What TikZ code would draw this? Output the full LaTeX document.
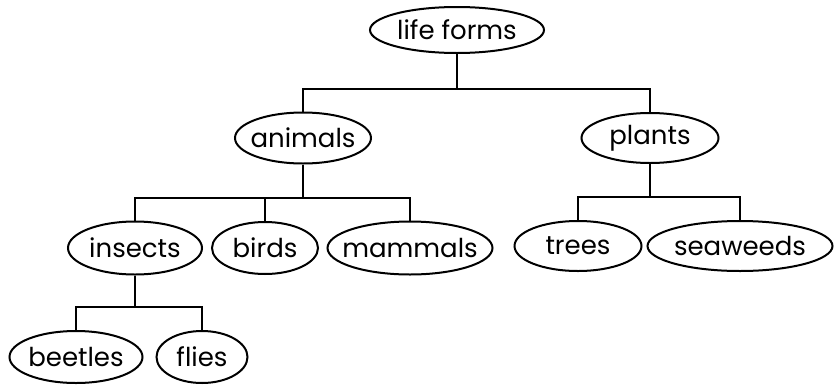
\documentclass[tikz,border=0pt]{standalone}
\usepackage{fontspec}
\setmainfont{Poppins}
\usetikzlibrary{shapes.geometric}
\begin{document}
\begin{tikzpicture}[x=1pt,y=1pt,
  taxon/.style={draw, ellipse, line width=2pt, inner sep=0pt,
    font=\fontsize{26}{26}\selectfont,
    % the label takes no width, so the ellipse keeps its set size
    execute at begin node={\hbox to 0pt\bgroup\hss},
    execute at end node={\hss\egroup}},
  link/.style={line width=2.2pt}]
\useasboundingbox (0,0) rectangle (840,-391);
% taxonomy nodes
\node[taxon, minimum width=174pt, minimum height=46pt] (life) at (457,-30) {life forms};
\node[taxon, minimum width=136pt, minimum height=51pt] (animals) at (303,-138) {animals};
\node[taxon, minimum width=137pt, minimum height=50pt] (plants) at (650,-138) {plants};
\node[taxon, minimum width=134pt, minimum height=53pt] (insects) at (135,-248) {insects};
\node[taxon, minimum width=106pt, minimum height=52pt] (birds) at (265,-248) {birds};
\node[taxon, minimum width=165pt, minimum height=53pt] (mammals) at (410,-248) {mammals};
\node[taxon, minimum width=127pt, minimum height=50pt] (trees) at (578,-246) {trees};
\node[taxon, minimum width=185pt, minimum height=50pt] (seaweeds) at (740,-246) {seaweeds};
\node[taxon, minimum width=133pt, minimum height=52pt] (beetles) at (76,-357) {beetles};
\node[taxon, minimum width=91pt, minimum height=52pt] (flies) at (202,-357) {flies};
% heights of the horizontal bars
\coordinate (barL) at (0,-89);
\coordinate (barA) at (0,-198);
\coordinate (barP) at (0,-197);
\coordinate (barI) at (0,-307);
% connectors
\draw[link] (life.south) -- (life.south |- barL) -| (animals.north);
\draw[link] (life.south |- barL) -| (plants.north);
\draw[link] (animals.south) -- (animals.south |- barA) -| (insects.north);
\draw[link] (animals.south |- barA) -| (birds.north);
\draw[link] (animals.south |- barA) -| (mammals.north);
\draw[link] (plants.south) -- (plants.south |- barP) -| (trees.north);
\draw[link] (plants.south |- barP) -| (seaweeds.north);
\draw[link] (insects.south) -- (insects.south |- barI) -| (beetles.north);
\draw[link] (insects.south |- barI) -| (flies.north);
\end{tikzpicture}
\end{document}
